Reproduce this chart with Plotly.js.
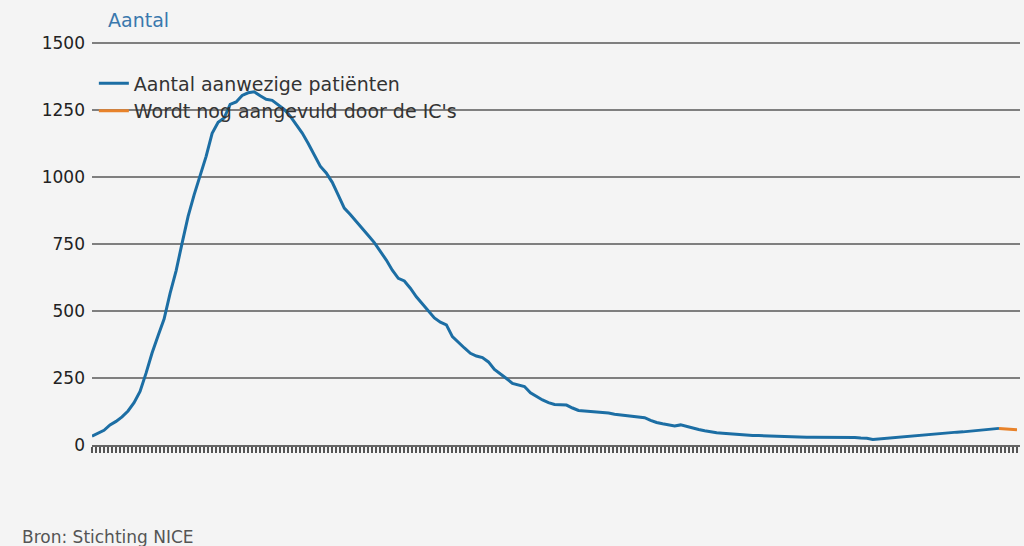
<!DOCTYPE html>
<html>
<head>
<meta charset="utf-8">
<script src="https://cdn.plot.ly/plotly-3.0.1.min.js"></script>
<style>
html,body{margin:0;padding:0;background:#f4f4f4;}
#chart{width:1024px;height:546px;}
</style>
</head>
<body>
<div id="chart"></div>
<script>
// First day of the series
const startDate = '2020-03-12';

// Aantal aanwezige patiënten (blue), one value per day from startDate
const aanwezig = [
  33, 43, 55, 75, 88, 105, 127, 158, 200, 268,
  343, 408, 470, 566, 650, 753, 853, 933, 1001, 1077,
  1163, 1204, 1220, 1271, 1280, 1304, 1314, 1318, 1303, 1290,
  1286, 1270, 1252, 1227, 1197, 1164, 1125, 1082, 1040, 1015,
  980, 932, 884, 860, 835, 810, 782, 755, 722, 690,
  652, 622, 612, 585, 553, 526, 503, 474, 458, 448,
  404, 382, 362, 342, 332, 326, 310, 282, 266, 248,
  230, 223, 218, 195, 180, 168, 158, 151, 150, 149,
  138, 129, 127, 125, 123, 122, 119, 115, 112, 110,
  107, 104, 102, 92, 84, 79, 74, 71, 75, 69,
  62, 58, 53, 49, 46, 44, 42, 40, 38, 36,
  35, 35, 34, 33, 32, 31, 30, 29, 29, 29,
  29, 29, 30, 30, 30, 29, 29, 28, 26, 25,
  21, 23, 25, 27, 28, 30, 33, 36, 38, 40,
  41, 43, 45, 46, 48, 49, 51, 53, 55, 58,
  60, 62
];

// Wordt nog aangevuld door de IC's (orange), last days
const aangevuldStart = 151;
const aangevuld = [62, 60, 59, 57];

const yTicks = [0, 250, 500, 750, 1000, 1250, 1500];

function dayToDate(i) {
  const d = new Date(startDate + 'T00:00:00Z');
  d.setUTCDate(d.getUTCDate() + i);
  return d.toISOString().slice(0, 10);
}

const xBlue = aanwezig.map((_, i) => dayToDate(i));
const xOrange = aangevuld.map((_, i) => dayToDate(aangevuldStart + i));
const endDate = dayToDate(aangevuldStart + aangevuld.length - 1) + ' 12:00';

const traces = [
  {
    x: xBlue, y: aanwezig, type: 'scatter', mode: 'lines',
    name: 'Aantal aanwezige patiënten',
    line: {color: '#1c6ea4', width: 3}
  },
  {
    x: xOrange, y: aangevuld, type: 'scatter', mode: 'lines',
    name: "Wordt nog aangevuld door de IC's",
    line: {color: '#e8822a', width: 3}
  }
];

const layout = {
  width: 1024, height: 546,
  paper_bgcolor: '#f4f4f4', plot_bgcolor: '#f4f4f4',
  margin: {l: 92, r: 4, t: 40, b: 101},
  font: {family: 'DejaVu Sans, Verdana, sans-serif', color: '#333', size: 15},
  showlegend: true,
  legend: {
    x: 0.002, xanchor: 'left', y: 0.94, yanchor: 'top',
    bgcolor: 'rgba(0,0,0,0)', font: {size: 19, color: '#333'},
    tracegroupgap: 0, itemwidth: 30
  },
  xaxis: {
    type: 'date',
    range: [startDate, endDate],
    showgrid: false, zeroline: false,
    showticklabels: false,
    ticks: 'outside', ticklen: 6, tickwidth: 2, tickcolor: '#555',
    dtick: 57600000, tick0: startDate,
    showline: true, linecolor: '#666', linewidth: 2
  },
  yaxis: {
    range: [0, 1511], tickvals: yTicks, ticktext: yTicks.map(String),
    showgrid: true, gridcolor: '#7f7f7f', gridwidth: 2,
    zeroline: false, showline: false, ticks: '',
    ticklabelstandoff: 6,
    tickfont: {size: 17, color: '#222'}
  },
  annotations: [
    {
      text: 'Aantal', xref: 'paper', yref: 'paper', x: 0, y: 1,
      xanchor: 'left', yanchor: 'bottom', xshift: 14, yshift: 7,
      showarrow: false, font: {size: 19, color: '#3a78ad'}
    },
    {
      text: 'Bron: Stichting NICE', xref: 'paper', yref: 'paper', x: 0, y: 0,
      xanchor: 'left', yanchor: 'bottom', xshift: -72, yshift: -104,
      showarrow: false, font: {size: 17, color: '#555'}
    }
  ]
};

Plotly.newPlot('chart', traces, layout, {displayModeBar: false, staticPlot: true});
</script>
</body>
</html>
